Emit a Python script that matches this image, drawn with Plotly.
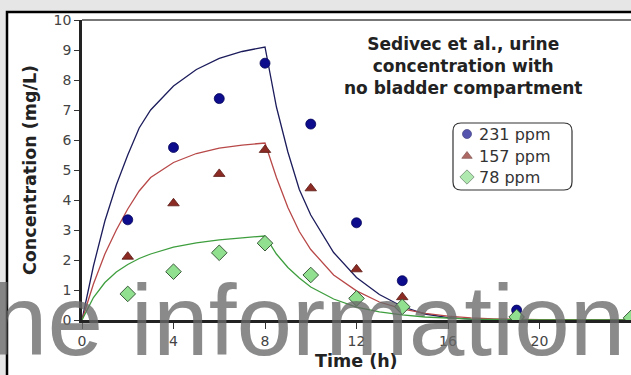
import plotly.graph_objects as go

# Observed data
obs_time = [2, 4, 6, 8, 10, 12, 14, 19]
obs_231 = [3.34, 5.75, 7.38, 8.56, 6.53, 3.24, 1.31, 0.33]
obs_157 = [2.11, 3.89, 4.87, 5.67, 4.39, 1.69, 0.76, 0.12]
obs_78_time = [2, 4, 6, 8, 10, 12, 14, 19, 24]
obs_78 = [0.87, 1.61, 2.24, 2.56, 1.50, 0.72, 0.44, 0.10, 0.07]

# Model curves
model_time = [0, 0.5, 1, 1.5, 2, 2.5, 3, 4, 5, 6, 7, 8, 8.5, 9, 9.5, 10, 11, 12, 13, 14, 15, 16, 17, 18, 20, 24]
model_231 = [0, 1.8, 3.3, 4.5, 5.5, 6.4, 7.0, 7.8, 8.35, 8.72, 8.95, 9.1, 7.1, 5.6, 4.35, 3.5, 2.25, 1.42, 0.85, 0.45, 0.2, 0.08, 0.03, 0.01, 0, 0]
model_157 = [0, 1.2, 2.2, 3.0, 3.7, 4.3, 4.75, 5.25, 5.55, 5.73, 5.83, 5.9, 4.75, 3.75, 2.95, 2.35, 1.5, 0.97, 0.6, 0.37, 0.22, 0.13, 0.07, 0.04, 0.01, 0]
model_78 = [0, 0.75, 1.25, 1.6, 1.85, 2.05, 2.2, 2.43, 2.57, 2.67, 2.74, 2.8, 2.2, 1.75, 1.4, 1.1, 0.7, 0.43, 0.27, 0.17, 0.1, 0.06, 0.03, 0.02, 0, 0]

x_ticks = [0, 4, 8, 12, 16, 20, 24]
y_ticks = [0, 1, 2, 3, 4, 5, 6, 7, 8, 9, 10]
legend_labels = ["231 ppm", "157 ppm", "78 ppm"]

W, H = 631, 375
L, R, T, B = 82, 0, 20, 55
PW, PH = W - L - R, H - T - B


def px(xp):
    return (xp - L) / PW


def py(yp):
    return (H - B - yp) / PH


blue_line, red_line, green_line = "#1c1c5c", "#b84848", "#3e9e3e"
blue_m, red_m, green_m = "#0c0c8c", "#8c2a24", "#90e090"

fig = go.Figure()
fig.add_trace(go.Scatter(x=model_time, y=model_231, mode="lines", line=dict(color=blue_line, width=1.3), showlegend=False))
fig.add_trace(go.Scatter(x=model_time, y=model_157, mode="lines", line=dict(color=red_line, width=1.3), showlegend=False))
fig.add_trace(go.Scatter(x=model_time, y=model_78, mode="lines", line=dict(color=green_line, width=1.3), showlegend=False))
fig.add_trace(go.Scatter(x=obs_time, y=obs_231, mode="markers", showlegend=False,
                         marker=dict(symbol="circle", size=10, color=blue_m, line=dict(color="#06065a", width=0.8))))
fig.add_trace(go.Scatter(x=obs_time, y=obs_157, mode="markers", showlegend=False,
                         marker=dict(symbol="triangle-up", size=10, color=red_m, line=dict(color="#5a1a14", width=0.8))))
fig.add_trace(go.Scatter(x=obs_78_time, y=obs_78, mode="markers", showlegend=False,
                         marker=dict(symbol="diamond", size=12, color=green_m, line=dict(color="#3a5a3a", width=1))))

# legend markers on an overlay axis (paper-like 0..1)
leg_x = [px(467)] * 3
leg_y = [py(134), py(156), py(177)]
fig.add_trace(go.Scatter(x=leg_x, y=leg_y, xaxis="x2", yaxis="y2", mode="markers", showlegend=False,
                         marker=dict(symbol=["circle", "triangle-up", "diamond"], size=[9, 9, 11],
                                     color=[blue_m, red_m, green_m],
                                     line=dict(color=["#06065a", "#5a1a14", "#3a5a3a"], width=0.8))))

shapes = []
# outer white panel with black frame
shapes.append(dict(type="rect", xref="paper", yref="paper", x0=px(7), y0=py(12), x1=px(700), y1=py(420),
                   fillcolor="white", line=dict(color="black", width=2.5), layer="below"))
# top frame line of plot
shapes.append(dict(type="line", xref="paper", yref="paper", x0=0, x1=1, y0=1, y1=1,
                   line=dict(color="#4a4a4a", width=1.5)))
# rounded legend box
x0, x1, y0, y1 = 453, 572, 123, 190
r = 8
path = (f"M {px(x0 + r)} {py(y0)} L {px(x1 - r)} {py(y0)} Q {px(x1)} {py(y0)} {px(x1)} {py(y0 + r)} "
        f"L {px(x1)} {py(y1 - r)} Q {px(x1)} {py(y1)} {px(x1 - r)} {py(y1)} "
        f"L {px(x0 + r)} {py(y1)} Q {px(x0)} {py(y1)} {px(x0)} {py(y1 - r)} "
        f"L {px(x0)} {py(y0 + r)} Q {px(x0)} {py(y0)} {px(x0 + r)} {py(y0)} Z")
shapes.append(dict(type="path", xref="paper", yref="paper", path=path,
                   line=dict(color="#333333", width=1.2), fillcolor="white", layer="below"))

annotations = []
for lab, yy in zip(legend_labels, [134, 156, 177]):
    annotations.append(dict(text=lab, xref="paper", yref="paper", x=px(477), y=py(yy), xanchor="left",
                            yanchor="middle", showarrow=False,
                            font=dict(family="DejaVu Sans", size=16, color="#333333")))
annotations.append(dict(text="Sedivec et al., urine<br>concentration with<br>no bladder compartment",
                        xref="paper", yref="paper", x=px(462.5), y=py(66), xanchor="center", yanchor="middle",
                        showarrow=False, align="center",
                        font=dict(family="DejaVu Sans", size=17, color="#222222", weight="bold")))
annotations.append(dict(text="Concentration (mg/L)", xref="paper", yref="paper", x=px(30), y=0.5,
                        xanchor="center", yanchor="middle", textangle=-90, showarrow=False,
                        font=dict(family="DejaVu Sans", size=17.5, color="#222222", weight="bold")))
annotations.append(dict(text="Time (h)", xref="paper", yref="paper", x=0.5, y=py(361),
                        xanchor="center", yanchor="middle", showarrow=False,
                        font=dict(family="DejaVu Sans", size=17.5, color="#222222", weight="bold")))
# watermark
annotations.append(dict(text="the information", xref="paper", yref="paper", x=px(627), y=py(320),
                        xanchor="right", yanchor="middle", showarrow=False,
                        font=dict(family="Liberation Sans", size=100, color="rgba(105,105,105,0.78)")))

fig.update_layout(
    width=W, height=H,
    margin=dict(l=L, r=R, t=T, b=B),
    paper_bgcolor="#e6e6e6",
    plot_bgcolor="rgba(0,0,0,0)",
    showlegend=False,
    shapes=shapes,
    annotations=annotations,
    xaxis=dict(range=[0, 24], tickvals=x_ticks, ticktext=[str(v) for v in x_ticks], showgrid=False,
               zeroline=False, showline=True, linecolor="#222222", linewidth=2.5,
               ticks="outside", ticklen=6, tickcolor="#333333", tickwidth=1.2,
               tickfont=dict(family="DejaVu Sans", size=14, color="#444444")),
    yaxis=dict(range=[0, 10], tickvals=y_ticks, ticktext=[str(v) for v in y_ticks], showgrid=False,
               zeroline=False, showline=True, linecolor="#222222", linewidth=2.5,
               ticks="outside", ticklen=5, tickcolor="#333333", tickwidth=1.2,
               tickfont=dict(family="DejaVu Sans", size=14, color="#444444")),
    xaxis2=dict(range=[0, 1], overlaying="x", visible=False, fixedrange=True),
    yaxis2=dict(range=[0, 1], overlaying="y", visible=False, fixedrange=True),
)

fig.write_html("out.html")
